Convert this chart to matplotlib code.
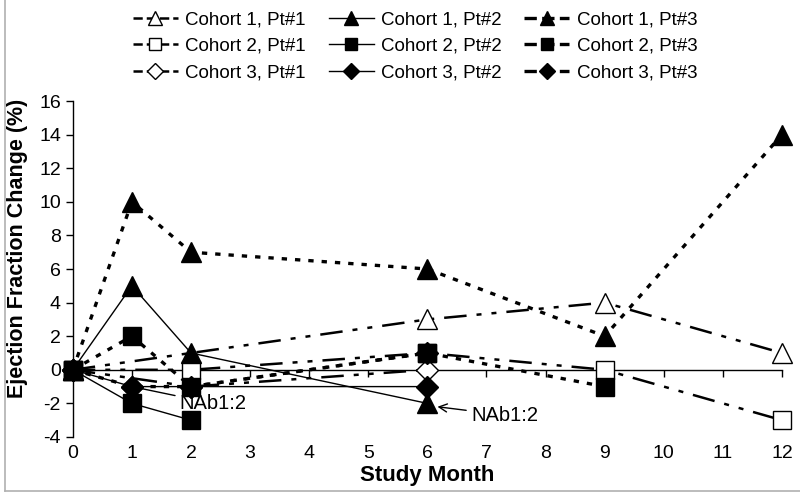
import matplotlib.pyplot as plt
from matplotlib.lines import Line2D

plt.rcParams['font.family'] = ['Liberation Sans', 'DejaVu Sans']
plt.rcParams['axes.unicode_minus'] = False

# data (study month -> ejection fraction change, %)
c1p1_x = [0, 6, 9, 12]
c1p1_y = [0, 3, 4, 1]
c1p2_x = [0, 1, 2, 6]
c1p2_y = [0, 5, 1, -2]
c1p3_x = [0, 1, 2, 6, 9, 12]
c1p3_y = [0, 10, 7, 6, 2, 14]

c2p1_x = [0, 2, 6, 9, 12]
c2p1_y = [0, 0, 1, 0, -3]
c2p2_x = [0, 1, 2]
c2p2_y = [0, -2, -3]
c2p3_x = [0, 1, 2, 6, 9]
c2p3_y = [0, 2, -1, 1, -1]

c3p1_x = [0, 2, 6]
c3p1_y = [0, -1, 0]
c3p2_x = [0, 1, 6]
c3p2_y = [0, -1, -1]
c3p3_x = [0, 1, 2, 6]
c3p3_y = [0, -1, -1, 1]

fig = plt.figure(figsize=(8, 4.94), dpi=100)
ax = fig.add_axes([0.091, 0.1154, 0.8865, 0.6801])

dashdot = (0, (9, 4, 2, 4, 2, 4))
dotted = (0, (1.6, 2.4))

def draw(x, y, marker, fill, style, lw, ms, z):
    h, = ax.plot(x, y, color='black', linestyle=style, linewidth=lw,
                 marker=marker, markersize=ms, markerfacecolor=fill,
                 markeredgecolor='black', markeredgewidth=1.0,
                 clip_on=False, zorder=z)
    return h

# Pt#1 dash-dot open markers, Pt#2 solid filled, Pt#3 dotted filled
h7 = draw(c3p1_x, c3p1_y, 'D', 'white', dashdot, 1.8, 11, 3)
h1 = draw(c1p1_x, c1p1_y, '^', 'white', dashdot, 1.8, 14, 4)
h4 = draw(c2p1_x, c2p1_y, 's', 'white', dashdot, 1.8, 13, 4)
h2 = draw(c1p2_x, c1p2_y, '^', 'black', '-', 1.0, 14, 5)
h5 = draw(c2p2_x, c2p2_y, 's', 'black', '-', 1.0, 13, 5)
h8 = draw(c3p2_x, c3p2_y, 'D', 'black', '-', 1.0, 11, 5)
h9 = draw(c3p3_x, c3p3_y, 'D', 'black', dotted, 2.4, 11, 5)
h3 = draw(c1p3_x, c1p3_y, '^', 'black', dotted, 2.4, 14, 6)
h6 = draw(c2p3_x, c2p3_y, 's', 'black', dotted, 2.4, 13, 6)

ax.set_xlim(0, 12)
ax.set_ylim(-4, 16)
ax.set_yticks(range(-4, 17, 2))
ax.set_xticks(range(0, 13))
ax.tick_params(axis='y', direction='out', length=5, labelsize=14, width=1)
ax.tick_params(axis='x', length=0, labelsize=14, pad=6)
for s in ['top', 'right', 'bottom']:
    ax.spines[s].set_visible(False)
ax.spines['left'].set_linewidth(1)

# x axis line crossing at y = 0
zero_ax = ax.secondary_xaxis(4 / 20)
zero_ax.set_xticks(range(0, 13))
zero_ax.tick_params(direction='out', length=5, labelbottom=False, labeltop=False, width=1)
zero_ax.spines['bottom'].set_linewidth(1)

ax.set_xlabel("Study Month", fontsize=16, fontweight='bold', labelpad=2)
ax.set_ylabel("Ejection Fraction Change (%)", fontsize=15.5, fontweight='bold')
ax.yaxis.set_label_coords(-0.063, 0.56)

ax.annotate("NAb1:2", xy=(1, -1), xytext=(1.8, -2.0), fontsize=14.5,
            va='center', ha='left',
            arrowprops=dict(arrowstyle='-', color='black', lw=1, shrinkA=1, shrinkB=0))
ax.annotate("NAb1:2", xy=(6.17, -2.2), xytext=(6.75, -2.7), fontsize=14.5,
            va='center', ha='left',
            arrowprops=dict(arrowstyle='->', color='black', lw=1, shrinkA=2, shrinkB=0))

# legend: rows are cohorts, columns are patients (filled column by column)
handles = [h1, h4, h7, h2, h5, h8, h3, h6, h9]
labels = ["Cohort 1, Pt#1", "Cohort 2, Pt#1", "Cohort 3, Pt#1",
          "Cohort 1, Pt#2", "Cohort 2, Pt#2", "Cohort 3, Pt#2",
          "Cohort 1, Pt#3", "Cohort 2, Pt#3", "Cohort 3, Pt#3"]
leg_handles = []
for h in handles:
    leg_handles.append(Line2D([], [], color='black', linestyle=h.get_linestyle(),
                              linewidth=h.get_linewidth(), marker=h.get_marker(),
                              markersize=h.get_markersize() * 0.7,
                              markerfacecolor=h.get_markerfacecolor(),
                              markeredgecolor='black'))
fig.legend(leg_handles, labels, ncol=3, loc='upper left', bbox_to_anchor=(0.145, 1.012),
           frameon=False, fontsize=13.5, handlelength=2.4, handletextpad=0.4,
           columnspacing=1.2, labelspacing=0.5)

# grey frame lines at left and bottom of the picture
fig.add_artist(Line2D([0.006, 0.006], [0.006, 1.0], color='#b0b0b0', lw=1.2,
                      transform=fig.transFigure))
fig.add_artist(Line2D([0.006, 1.0], [0.006, 0.006], color='#b0b0b0', lw=1.2,
                      transform=fig.transFigure))

fig.savefig("out.png", dpi=100)
